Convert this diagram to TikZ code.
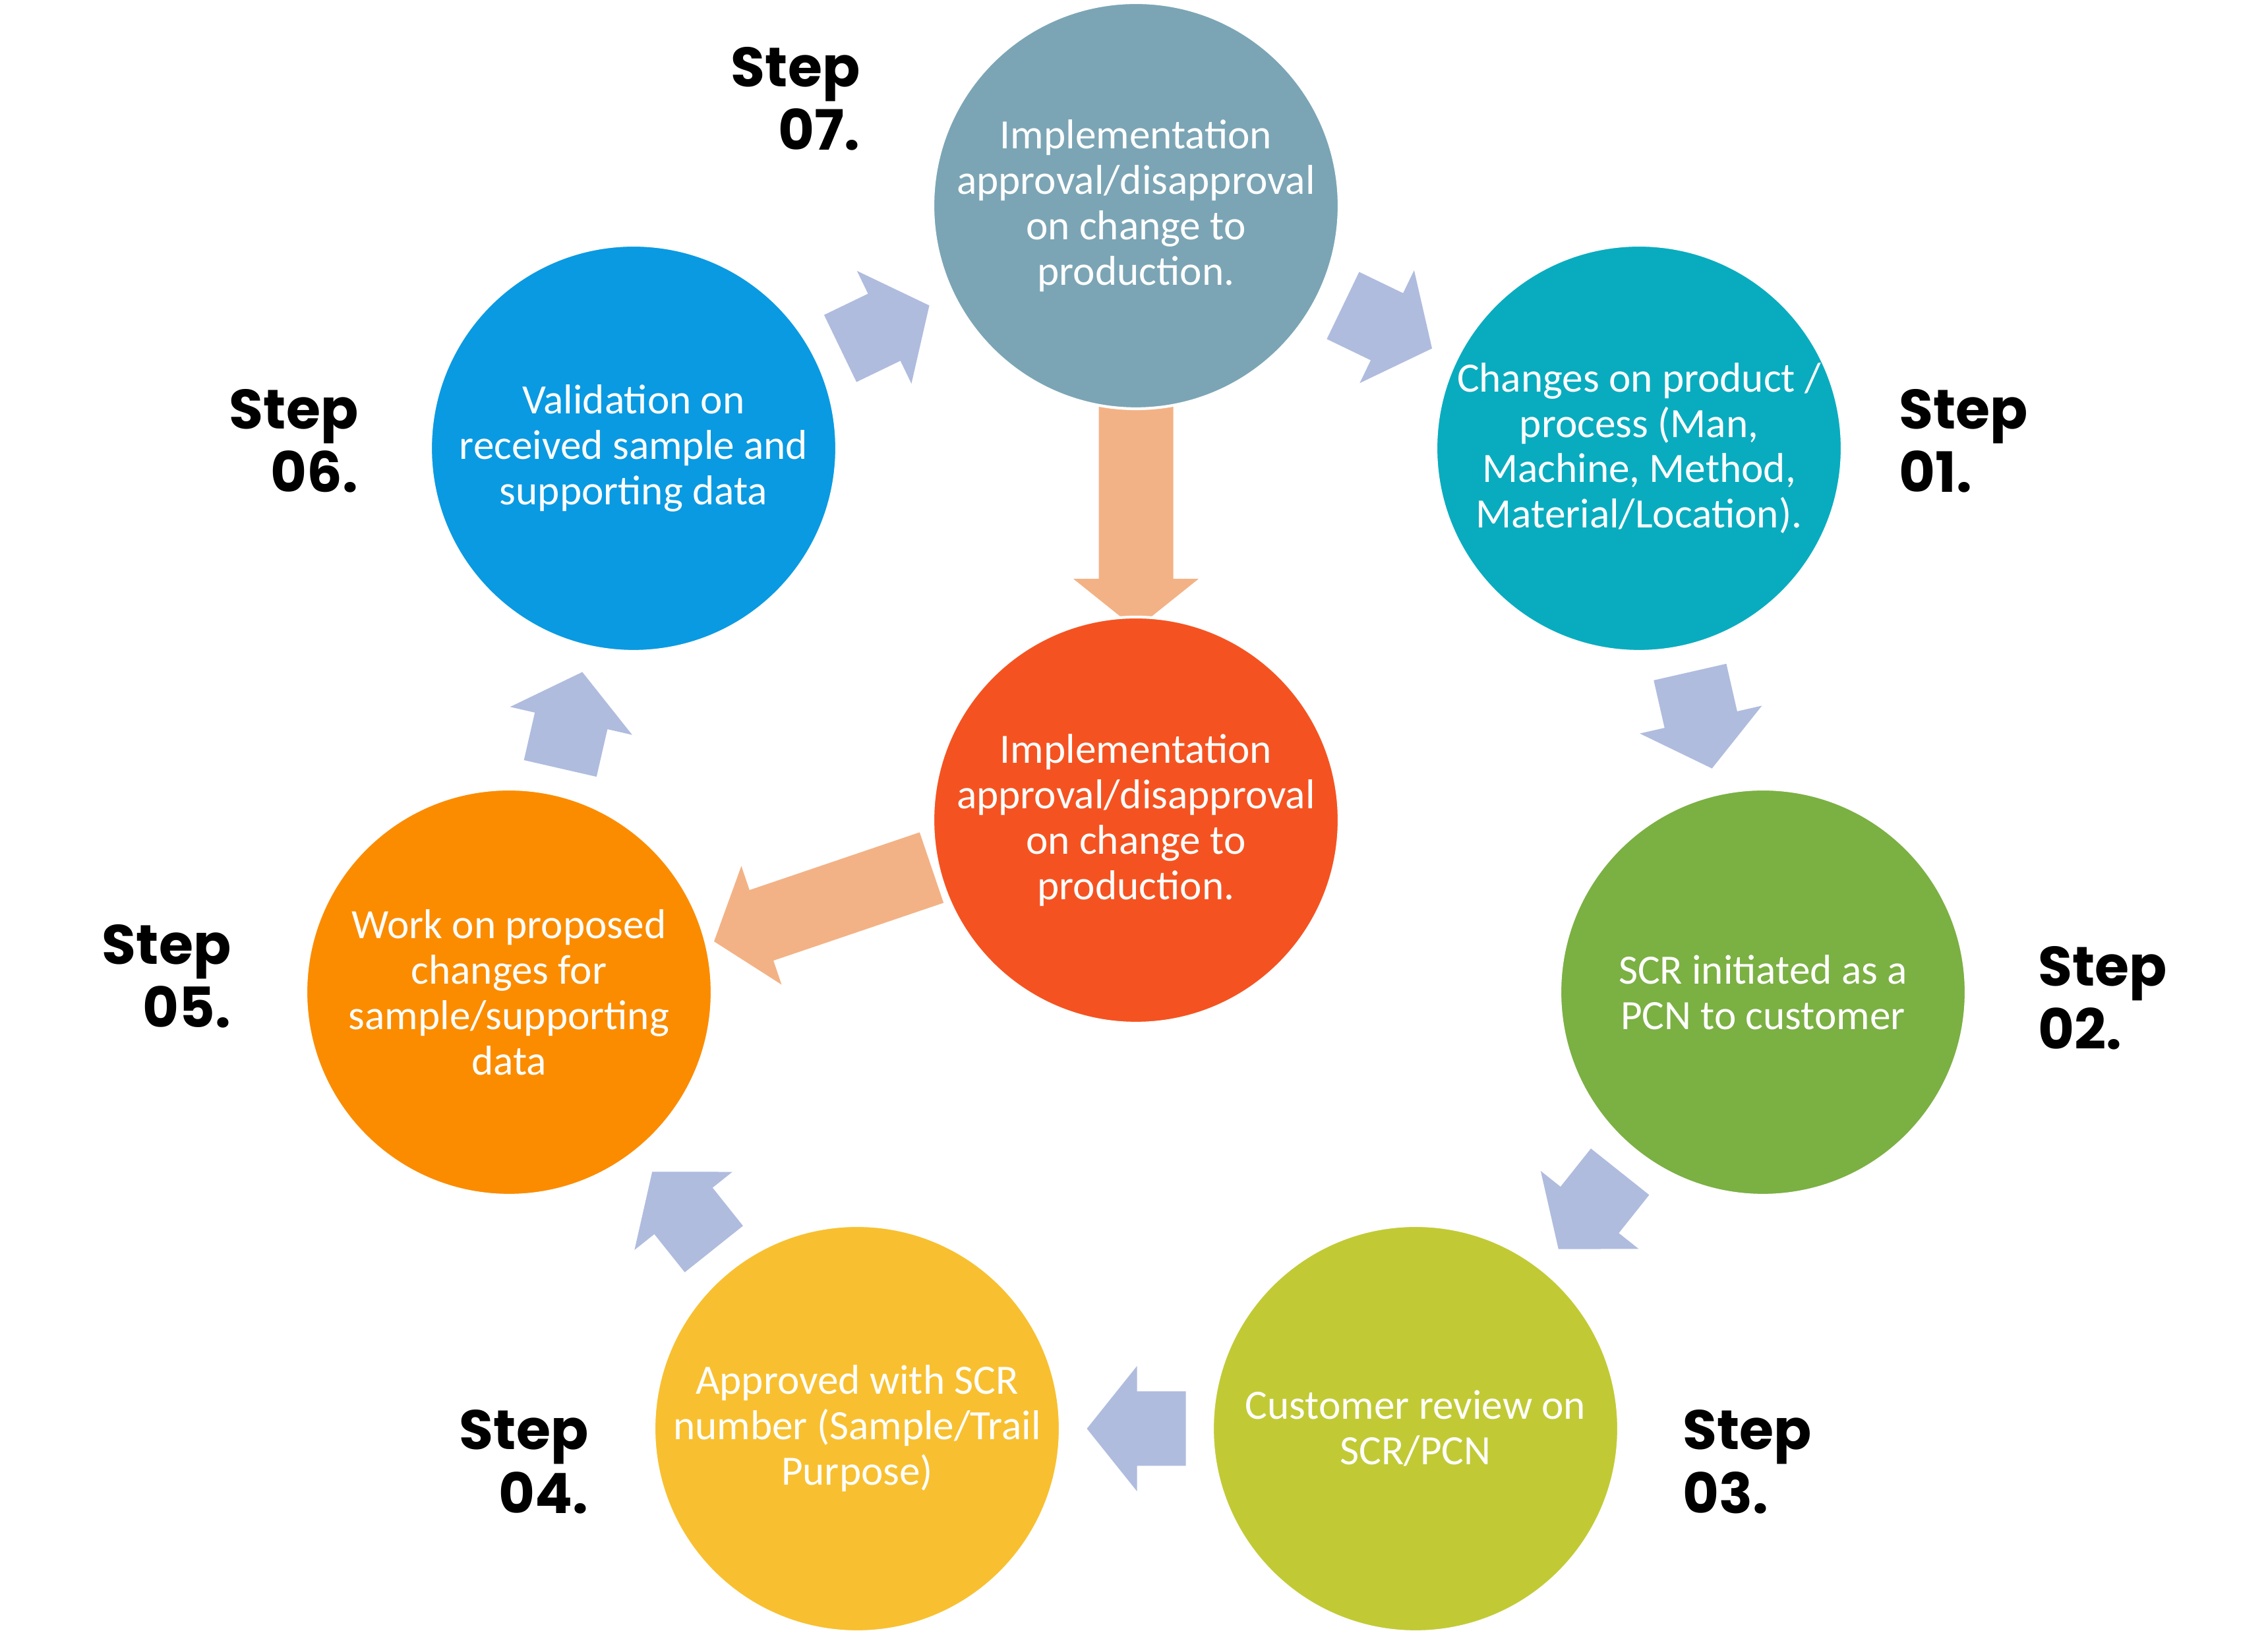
\documentclass[tikz,border=0pt]{standalone}
\usepackage{fontspec}
\setmainfont{Carlito}
\newfontfamily\stepfont{Poppins}
\usetikzlibrary{calc, backgrounds}

\definecolor{stepsev}{HTML}{7BA5B5}
\definecolor{stepone}{HTML}{09ACBF}
\definecolor{steptwo}{HTML}{7BB043}
\definecolor{stepthree}{HTML}{C1CA35}
\definecolor{stepfour}{HTML}{F8C030}
\definecolor{stepfive}{HTML}{FB8C00}
\definecolor{stepsix}{HTML}{0A9AE2}
\definecolor{stepmid}{HTML}{F45321}
\definecolor{flowblue}{HTML}{AFBCDE}
\definecolor{floworange}{HTML}{F3B285}

% block arrow from tail centre #2 to tip #3
\newcommand{\blockarrow}[3][blueflow]{%
  \coordinate (hb) at ($(#3)!0.76cm!(#2)$);
  \fill[#1] ($(#2)!0.565cm!90:(#3)$) -- ($(hb)!0.565cm!90:(#3)$) -- ($(hb)!0.95cm!90:(#3)$) -- (#3)
    -- ($(hb)!0.95cm!-90:(#3)$) -- ($(hb)!0.565cm!-90:(#3)$) -- ($(#2)!0.565cm!-90:(#3)$) -- cycle;
}

\begin{document}
\begin{tikzpicture}[
    stage/.style={circle, draw=white, line width=1.2pt, minimum size=6.16cm, inner sep=0pt,
      text=white, align=center, font=\fontsize{18}{19.6}\selectfont},
    steplabel/.style={font=\stepfont\bfseries\fontsize{24}{27.5}\selectfont, inner sep=0pt},
    blueflow/.style={fill=flowblue},
    orangeflow/.style={fill=floworange}]
    \useasboundingbox (0,0) rectangle (34.4,24.8);

    % Define the seven stages and the middle one
    \node[stage, fill=stepsev] (c7) at (17.23, 21.68) {Implementation\\approval/disapproval\\on change to\\production.};
    \node[stage, fill=stepone] (c1) at (24.86, 18.00) {Changes on product /\\process (Man,\\Machine, Method,\\Material/Location).};
    \node[stage, fill=steptwo] (c2) at (26.74, 9.75) {SCR initiated as a\\PCN to customer};
    \node[stage, fill=stepthree] (c3) at (21.47, 3.13) {Customer review on\\SCR/PCN};
    \node[stage, fill=stepfour] (c4) at (13.00, 3.13) {Approved with SCR\\number (Sample/Trail\\Purpose)};
    \node[stage, fill=stepfive] (c5) at (7.72, 9.75) {Work on proposed\\changes for\\sample/supporting\\data};
    \node[stage, fill=stepsix] (c6) at (9.61, 18.00) {Validation on\\received sample and\\supporting data};
    \node[stage, fill=stepmid] (ctr) at (17.23, 12.36) {Implementation\\approval/disapproval\\on change to\\production.};

    % Step labels
    \node[steplabel, anchor=east, align=right] (s7) at (13.05, 23.30) {Step\\07.};
    \node[steplabel, anchor=west, align=left] (s1) at (28.80, 18.11) {Step\\01.};
    \node[steplabel, anchor=west, align=left] (s2) at (30.91, 9.66) {Step\\02.};
    \node[steplabel, anchor=west, align=left] (s3) at (25.52, 2.63) {Step\\03.};
    \node[steplabel, anchor=east, align=right] (s4) at (8.93, 2.63) {Step\\04.};
    \node[steplabel, anchor=east, align=right] (s5) at (3.51, 9.99) {Step\\05.};
    \node[steplabel, anchor=east, align=right] (s6) at (5.44, 18.11) {Step\\06.};

    % Draw the flow arrows behind the circles
    \begin{scope}[on background layer]
      \foreach \a/\b in {c7/c1, c1/c2, c2/c3, c3/c4, c4/c5, c5/c6, c6/c7} {
        \coordinate (tail) at ($(\a)!0.5!(\b)!-0.75cm!(\b)$);
        \coordinate (tip) at ($(\a)!0.5!(\b)!0.75cm!(\b)$);
        \blockarrow{tail}{tip}
      }
      \coordinate (droptail) at ($(c7)!2.9cm!(ctr)$);
      \coordinate (droptip) at ($(ctr)!2.9cm!(c7)$);
      \blockarrow[orangeflow]{droptail}{droptip}
      \coordinate (backtail) at ($(ctr)+(-3.1,-0.72)$);
      \coordinate (backtip) at ($(c5)+(3.11,0.77)$);
      \blockarrow[orangeflow]{backtail}{backtip}
    \end{scope}
\end{tikzpicture}
\end{document}
